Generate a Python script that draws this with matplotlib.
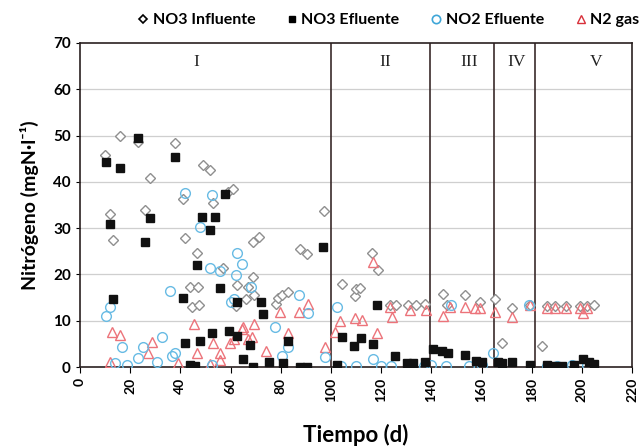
import matplotlib
matplotlib.use("Agg")
import matplotlib.pyplot as plt
from matplotlib.lines import Line2D

# values (day, mgN/l)
no3_in_x = [10, 12, 13, 16, 23, 26, 28, 38, 41, 42, 44, 44.5, 46.5, 47, 47.5, 49, 52, 53,
            57, 59, 61, 62.5, 62, 66, 67, 69, 69, 71.5, 69.5, 78, 79, 80.5, 83, 87.6, 90.6,
            97.2, 104.3, 109.6, 110, 111.6, 116.2, 118.8, 123.5, 126, 130.8, 134, 137.5,
            144.8, 146.3, 153.4, 159.4, 165.3, 168, 172, 179.3, 184.3, 186, 189.2, 193.6,
            199.2, 201.9, 205]
no3_in_y = [45.8, 33.1, 27.4, 50, 48.7, 34, 40.8, 48.3, 36.2, 27.8, 17.2, 13, 24.7, 17.4, 13.4,
            43.7, 42.5, 35.4, 21.5, 37.9, 38.5, 17.7, 13.2, 14.8, 17.3, 19.4, 27.1, 28, 15.5,
            13.6, 15, 15.5, 16.3, 25.6, 24.5, 33.8, 18, 15.3, 16.8, 17, 24.7, 20.9, 13.4, 13.5,
            13.4, 13.5, 13.7, 15.8, 13.4, 15.6, 14.1, 14.8, 5.1, 12.7, 13.4, 4.5, 13.2, 13.2,
            13.2, 13.2, 13.2, 13.3]

no3_ef_x = [10.2, 12, 13, 15.9, 23, 25.9, 27.9, 37.8, 40.9, 41.8, 44, 46, 46.7, 47.8, 48.8,
            52, 52.8, 53.8, 55.8, 57.8, 59.2, 62.5, 62.7, 64.8, 67.7, 69, 72, 72.8, 75.4,
            80.7, 83, 87.6, 90.6, 96.9, 102.4, 104.6, 109.2, 111.8, 116.6, 118.4, 125.5,
            130.4, 132.8, 137.5, 140.8, 144.4, 146.6, 153.4, 158, 160, 166.6, 168, 172,
            179.3, 186, 189, 192, 197, 200.5, 203, 205]
no3_ef_y = [44.3, 30.9, 14.8, 43, 49.5, 27, 32.1, 45.3, 15, 5.3, 0.5, 0.3, 22, 5.6, 32.5,
            29.5, 7.3, 32.5, 17, 37.3, 7.7, 14, 6.7, 1.8, 4.8, 0.1, 14.1, 11.4, 1.2,
            0.8, 5.7, 0, 0, 25.9, 0.5, 6.5, 4.6, 6.3, 4.9, 13.4, 2.4,
            0.8, 0.8, 1.2, 4, 3.4, 3, 2.6, 1.3, 1, 1.2, 0.9, 1.2,
            0.4, 0.4, 0.3, 0.2, 0.5, 1.7, 1, 0.6]

no2_x = [10.4, 12, 14, 16.6, 18.6, 23.2, 25.2, 30.5, 32.5, 35.9, 36.5, 37.8, 41.8, 47.8,
         51.8, 52.8, 52.8, 55.8, 60, 62.2, 62.4, 64.4, 68, 61.4, 77.7, 80.4, 83, 87.4, 91,
         97.5, 102.5, 104, 110, 116.6, 120, 124, 131, 137, 140, 146, 148, 155, 160, 164.7,
         179, 186, 190, 196, 202]
no2_y = [11, 12.9, 0.8, 4.4, 0.4, 1.9, 4.4, 1.2, 6.5, 16.5, 2.3, 3, 37.7, 30.2,
         21.4, 37.1, 0.4, 20.8, 14.1, 19.9, 24.7, 22.2, 17.2, 14.7, 8.7, 2.4, 4.4, 15.5, 11.6,
         2.2, 13, 0.2, 0.2, 1.8, 0.2, 0.3, 0.2, 0.2, 0.5, 0.3, 13.4, 0.3, 0.4, 3,
         13.5, 0.3, 0.3, 0.5, 0.4]

n2_x = [12, 12.6, 15.9, 27, 28.5, 39, 45.5, 46.5, 52, 53.1, 55.8, 55.8, 59.8, 61.4, 64.4,
        64.8, 67, 68.6, 69.3, 74, 79.7, 82.7, 87.4, 91, 97.6, 101.5, 103.5, 109.4, 112.2,
        116.6, 118.4, 123.5, 124.5, 131.5, 138, 144.8, 147.5, 153.4, 157.5, 159.4, 165.3,
        172, 179.3, 186, 189.2, 193.6, 199.2, 200.5, 202]
n2_y = [1.2, 7.6, 6.9, 3, 5.5, 0.8, 9.2, 3, 0.7, 5.1, 3, 1.5, 5.1, 6, 8.3,
        8.7, 6, 6.4, 9.3, 3.5, 12, 7.3, 12, 13.7, 4.4, 7.5, 10, 10.5, 10.2,
        22.7, 7.3, 13, 10.8, 12.3, 12.3, 11, 13, 13, 12.7, 12.7, 11.8,
        10.8, 13.4, 12.8, 12.8, 12.8, 12.8, 11.6, 12.8]

stage_limits = [100, 139.5, 165, 181.5]
stage_names = ["I", "II", "III", "IV", "V"]
stage_pos = [46.5, 121.5, 155, 174, 205.5]

plt.rcParams['font.family'] = ['Lato', 'DejaVu Sans']

fig = plt.figure(figsize=(6.43, 4.46), dpi=100)
ax = fig.add_axes([0.1244, 0.177, 0.8586, 0.7266])

for yv in range(10, 70, 10):
    ax.axhline(yv, color='#cfcfcf', lw=0.9, zorder=0)

ax.plot(no3_in_x, no3_in_y, ls='none', marker='D', ms=5.5, mfc='white', mec='#8f8f8f', mew=1.0, zorder=3)
ax.plot(n2_x, n2_y, ls='none', marker='^', ms=7, mfc='none', mec='#ec737a', mew=1.0, zorder=3)
ax.plot(no2_x, no2_y, ls='none', marker='o', ms=7, mfc='none', mec='#68bbe4', mew=1.0, zorder=4)
ax.plot(no3_ef_x, no3_ef_y, ls='none', marker='s', ms=6, mfc='#111111', mec='#111111', zorder=5)

for xv in stage_limits:
    ax.axvline(xv, color='#3a2a2a', lw=1.2, zorder=2)
for name, xv in zip(stage_names, stage_pos):
    ax.text(xv, 66.0, name, ha='center', va='center', fontsize=12.5,
            family='Liberation Serif', color='#222222')

ax.set_xlim(0, 220)
ax.set_ylim(0, 70)
ax.set_xticks(range(0, 221, 20))
ax.set_yticks(range(0, 71, 10))
ax.tick_params(axis='x', labelrotation=90, labelsize=10, length=4)
ax.tick_params(axis='y', labelsize=11, length=3)
for lab in ax.get_xticklabels() + ax.get_yticklabels():
    lab.set_fontweight('bold')
for sp in ax.spines.values():
    sp.set_color('#2a2020')
    sp.set_linewidth(1.2)

ax.set_ylabel('Nitrógeno (mgN·l⁻¹)', fontsize=14, fontweight='bold', labelpad=10)
ax.set_xlabel('Tiempo (d)', fontsize=16, fontweight='bold', labelpad=16)

handles = [
    Line2D([], [], ls='none', marker='D', ms=4, mfc='white', mec='black', mew=1.2),
    Line2D([], [], ls='none', marker='s', ms=5, mfc='black', mec='black'),
    Line2D([], [], ls='none', marker='o', ms=6, mfc='none', mec='#3fa6d8', mew=1.2),
    Line2D([], [], ls='none', marker='^', ms=6, mfc='none', mec='#d8303a', mew=1.0),
]
labels = ['NO3 Influente', 'NO3 Efluente', 'NO2 Efluente', 'N2 gas']
fig.legend(handles, labels, loc='center left', bbox_to_anchor=(0.19, 0.955), ncol=4,
           frameon=False, handletextpad=0.2, columnspacing=1.9, handlelength=0.8,
           prop={'weight': 'bold', 'size': 11.5})

fig.savefig('out.png', dpi=100)
